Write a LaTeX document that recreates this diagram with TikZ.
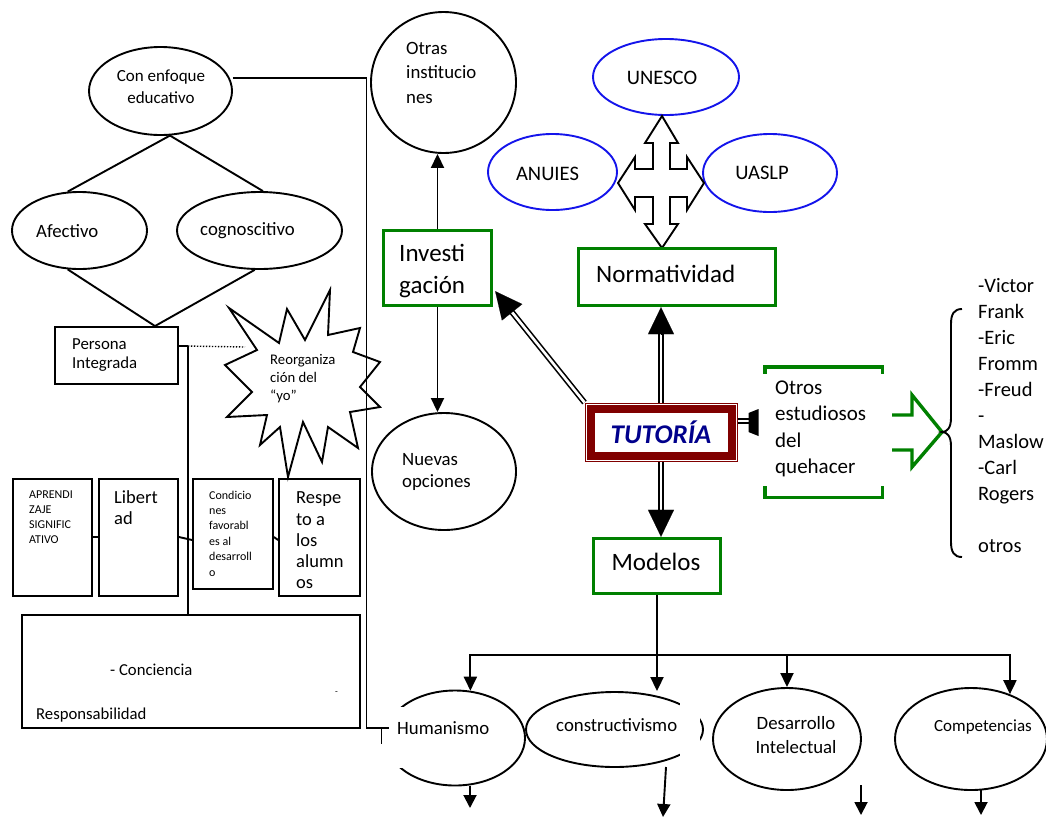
\documentclass[tikz,border=0pt]{standalone}
\usepackage{fontspec}
\setmainfont{Carlito}
\usetikzlibrary{shapes.geometric,arrows.meta,calc}
\definecolor{gg}{RGB}{0,128,0}
\definecolor{bl}{RGB}{20,20,235}
\definecolor{dred}{RGB}{128,0,0}
\definecolor{navyb}{RGB}{0,0,140}
\newcommand\myfs[2]{\fontsize{#1}{#2}\selectfont}
\begin{document}
\begin{tikzpicture}[x=1pt,y=-1pt,
  ln/.style={line width=1.9pt},
  ell/.style={ellipse, draw, line width=1.9pt, inner sep=0pt},
  bell/.style={ellipse, draw=bl, line width=1.9pt, inner sep=0pt},
  box/.style={rectangle, draw, line width=1.9pt, inner sep=0pt, fill=white},
  gbox/.style={rectangle, draw=gg, line width=3.4pt, inner sep=0pt, fill=white},
  gline/.style={draw=gg, line width=3.4pt},
  tx/.style={inner sep=0pt, anchor=west, align=left},
  tc/.style={inner sep=0pt, anchor=center, align=center},
  arr/.style={line width=1.9pt, -{Triangle[length=14pt,width=13pt]}},
  dbl/.style={double=white, double distance=2.6pt, line width=1.6pt},
  bighead/.style={line width=0.1pt, -{Triangle[length=27pt,width=26pt]}},
  smallhead/.style={line width=1.9pt, -{Triangle[length=13pt,width=13pt]}}
]
\useasboundingbox (0,0) rectangle (1046,817);
\fill[white] (0,0) rectangle (1046,817);

% ---------- left part ----------
\node[ell, minimum width=143pt, minimum height=88pt] (con) at (160.5,91) {};
\node[tc, font={\myfs{17}{22}}] (conT) at (161,87) {Con enfoque\\educativo};
\node[ell, minimum width=135pt, minimum height=77pt] (afe) at (79.5,230.5) {};
\node[tx, font={\myfs{18.8}{23}}] (afeT) at (36,231) {Afectivo};
\node[ell, minimum width=165pt, minimum height=77pt] (cog) at (259.5,230.5) {};
\node[tx, font={\myfs{18.8}{23}}] (cogT) at (200,231) {cognoscitivo};

\node[box, minimum width=123pt, minimum height=57pt] (pers) at (116.5,355.5) {};
\node[tx, font={\myfs{16.8}{19}}] (persT) at (72,355.5) {Persona\\Integrada};
\coordinate (persTop) at ($(pers.north)+(38.5,0)$);

\draw[ln] (con.-78) -- (afe.107);
\draw[ln] (con.-78) -- (cog.85);
\draw[ln] (afe.-107) -- (persTop);
\draw[ln] (cog.-97) -- (persTop);

% row of boxes
\node[box, minimum width=79pt, minimum height=117pt] (apr) at (52.5,537.5) {};
\node[tx, font={\myfs{12}{15}}] (aprT) at (29,517.5) {APRENDI\\ZAJE\\SIGNIFIC\\ATIVO};
\node[box, minimum width=79pt, minimum height=117pt] (lib) at (138.5,537.5) {};
\node[tx, font={\myfs{18.5}{21}}] (libT) at (114,507.5) {Libert\\ad};
\node[box, minimum width=80pt, minimum height=110pt] (cond) at (233,534) {};
\node[tx, font={\myfs{12}{15.4}}] (condT) at (209,533.5) {Condicio\\nes\\favorabl\\es al\\desarroll\\o};
\node[box, minimum width=81pt, minimum height=117pt] (resp) at (319.5,537.5) {};
\node[tx, font={\myfs{18.5}{21.3}}] (respT) at (296,540.5) {Respe\\to a\\los\\alumn\\os};

\node[box, minimum width=338pt, minimum height=113pt] (bb) at (191,671.5) {};
\node[tx, font={\myfs{16.7}{20}}] (bbT1) at (110,670) {- Conciencia};
\node[tx, font={\myfs{9}{10}}] (bbT2) at (335,693) {-};
\node[tx, font={\myfs{16.7}{20}}] (bbT3) at (36,715) {Responsabilidad};

\draw[ln] (apr.east |- 0,537) -- (lib.west |- 0,537);
\draw[ln] (lib.east |- 0,537) -- (cond.west |- 0,540);
\draw[ln] (cond.east |- 0,537) -- (resp.west |- 0,540);

% persona connectors
\coordinate (pj) at ($(pers.north east)+(9,20)$);
\coordinate (burstL) at (245,347);
\draw[ln] (pers.east |- pj) -- (pj);
\draw[line width=1.4pt, dash pattern=on 1.3pt off 1.7pt] (pj) -- (burstL);
\draw[ln] (pj) -- (pj |- bb.north);

% starburst
\draw[ln, fill=white] (229,308) -- (279,343) -- (287,309) -- (305,340) -- (330,290) -- (328,335)
  -- (360,328) -- (353,352) -- (380,362) -- (360,387) -- (380,407) -- (350,412) -- (358,448)
  -- (328,427) -- (322,462) -- (303,422) -- (288,477) -- (280,427) -- (260,445) -- (267,415)
  -- (227,417) -- (252,392) -- (225,365) -- (257,350) -- cycle;
\node[tx, font={\myfs{14.7}{18}}] (reoT) at (270,379) {Reorganiza\\ción del\\“yo”};

% bottom ellipses (drawn early so the long connector sits on top)
\node[ell, minimum width=140pt, minimum height=95pt] (hum) at (455,738) {};
\fill[white] (379,707) rectangle (501,768);
\node[tx, font={\myfs{18.8}{23}}] (humT) at (397,728) {Humanismo};
\node[ell, minimum width=177pt, minimum height=75pt] (cons) at (614.5,729.5) {};
\fill[white] (680,699) rectangle (700,763);
\node[tx, font={\myfs{18.8}{23}}] (consT) at (556,725) {constructivismo};
\node[ell, minimum width=148pt, minimum height=102pt] (des) at (787,739) {};
\node[tc, font={\myfs{18.8}{24}}] (desT) at (796,735) {Desarrollo\\Intelectual};
\node[ell, minimum width=152pt, minimum height=102pt] (comp) at (971,739) {};
\node[tc, font={\myfs{17}{20}}] (compT) at (983,727) {Competencias};

% long connector from Con enfoque to Humanismo
\coordinate (turnA) at (366.5,728);
\draw[ln] ($(con.east)+(0,-13)$) -| (turnA) -- ($(hum.west)+(5,-10)$);
\draw[line width=0.8pt] (381,728) -- (381,744);

% ---------- middle ----------
\node[ell, minimum width=145pt, minimum height=141pt] (otras) at (443.5,82.5) {};
\node[tx, font={\myfs{18.8}{24.5}}] (otrasT) at (406,72.5) {Otras\\institucio\\nes};
\node[gbox, minimum width=108pt, minimum height=75pt] (inv) at (437.5,268) {};
\node[tx, font={\myfs{25}{32}}] (invT) at (399,271) {Investi\\gación};
\node[ell, minimum width=144pt, minimum height=117pt] (nue) at (444,471.5) {};
\node[tx, font={\myfs{18.8}{22.7}}] (nueT) at (402,472) {Nuevas\\opciones};
\draw[arr] (inv.north) -- (inv.north |- otras.south);
\draw[arr] (inv.south) -- (inv.south |- nue.north);

% ---------- right: institutions ----------
\node[bell, minimum width=146pt, minimum height=76pt] (unesco) at (666,77) {};
\node[tc, font={\myfs{20.6}{24}}] (unescoT) at (662,78) {UNESCO};
\node[bell, minimum width=129pt, minimum height=76pt] (anuies) at (552.5,172) {};
\node[tc, font={\myfs{20.6}{24}}] (anuiesT) at (547.5,174) {ANUIES};
\node[bell, minimum width=134pt, minimum height=78pt] (uaslp) at (770,173) {};
\node[tc, font={\myfs{20.6}{24}}] (uaslpT) at (762,173) {UASLP};

\draw[ln, fill=white, line join=miter] (662,116) -- (678,143) -- (670,143) -- (670,169) -- (687,169) -- (687,157)
  -- (704,183) -- (687,210) -- (687,197) -- (670,197) -- (670,224) -- (678,224) -- (662,248)
  -- (645,224) -- (653,224) -- (653,197) -- (635,197) -- (635,210) -- (618,183) -- (635,157)
  -- (635,169) -- (653,169) -- (653,143) -- (645,143) -- cycle;

\node[gbox, minimum width=197pt, minimum height=57pt] (norm) at (677,277) {};
\node[tx, font={\myfs{25}{30}}] (normT) at (596,274) {Normatividad};

% TUTORIA
\node[rectangle, draw=dred, line width=1pt, minimum width=152pt, minimum height=58pt, inner sep=0pt,
      fill=white] (tut) at (661,432) {};
\fill[dred] ($(tut.north west)+(2,2)$) rectangle ($(tut.south east)+(-2,-2)$);
\fill[white] ($(tut.north west)+(10,10)$) rectangle ($(tut.south east)+(-10,-10)$);
\node[tc, font={\myfs{27}{30}\bfseries\itshape}, text=navyb] (tutT) at (661,432) {TUTORÍA};

\node[gbox, minimum width=127pt, minimum height=55pt] (mod) at (657,566) {};
\node[tc, font={\myfs{25}{30}}] (modT) at (656,562) {Modelos};

% double arrows from TUTORIA
\coordinate (normTip) at (tut.north |- norm.south);
\draw[dbl] (tut.north) -- ($(normTip)+(0,25)$);
\draw[bighead] ($(normTip)+(0,27)$) -- (normTip);
\coordinate (modTip) at (tut.south |- mod.north);
\draw[dbl] (tut.south) -- ($(modTip)+(0,-25)$);
\draw[bighead] ($(modTip)+(0,-27)$) -- (modTip);
\coordinate (invTip) at ($(inv.south east)+(2,-16)$);
\draw[dbl] (tut.north west) -- ($(invTip)!24pt!(tut.north west)$);
\draw[bighead] ($(invTip)!26pt!(tut.north west)$) -- (invTip);

% Otros estudiosos
\node[rectangle, inner sep=0pt, minimum width=117pt, minimum height=130pt] (otros) at (823.5,432) {};
\draw[gline] ($(otros.north west)+(0,7)$) -- (otros.north west) -- (otros.north east) -- ($(otros.north east)+(0,7)$);
\draw[gline] ($(otros.south west)+(0,-11)$) -- (otros.south west) -- (otros.south east) -- ($(otros.south east)+(0,-11)$);
\node[tx, font={\myfs{21}{26.5}}] (otrosT) at (775,429) {Otros\\estudiosos\\del\\quehacer};
\coordinate (tr) at ($(tut.east)+(11,-11)$);
\draw[dbl] ($(tut.east)+(0,-11)$) -- ($(tr)+(1,0)$);
\fill (tr) ++(0,-8) -- ++(10,-4) -- ++(0,27) -- ++(-10,-4) -- cycle;

% green open arrow
\draw[gline, line join=miter] (892,415) -- (912,415) -- (912,395) -- (942,432) -- (912,467) -- (912,450) -- (892,450);

% brace
\draw[line width=1.9pt] (962,309) .. controls (954,309) and (951,314) .. (951,324) -- (951,418)
  .. controls (951,428) and (947,432) .. (942,432)
  .. controls (947,432) and (951,436) .. (951,446) -- (951,542)
  .. controls (951,552) and (954,557) .. (962,557);
\node[tx, font={\myfs{20.5}{26}}] (listT) at (978,416) {-Victor\\Frank\\-Eric\\Fromm\\-Freud\\-\\Maslow\\-Carl\\Rogers\\[26pt]otros};

% ---------- Modelos distribution ----------
\coordinate (split) at ($(mod.south)+(0,60)$);
\draw[ln] (mod.south) -- (split);
\draw[arr] (split) -| (hum.72);
\draw[arr] (split) -- (split |- cons.north);
\draw[arr] (split) -| (des.north);
\draw[arr] (split) -| (comp.49);

% free arrows below the ellipses
\coordinate (humOut) at (470,808);
\draw[smallhead] (hum.south -| humOut) -- (humOut);
\coordinate (consA) at (666,767);
\coordinate (consB) at (663,817);
\draw[smallhead] (consA) -- (consB);
\coordinate (desA) at (861,785);
\coordinate (desB) at (861,815);
\draw[smallhead] (desA) -- (desB);
\coordinate (compA) at (981,790);
\coordinate (compB) at (981,815);
\draw[smallhead] (compA) -- (compB);
\end{tikzpicture}
\end{document}
